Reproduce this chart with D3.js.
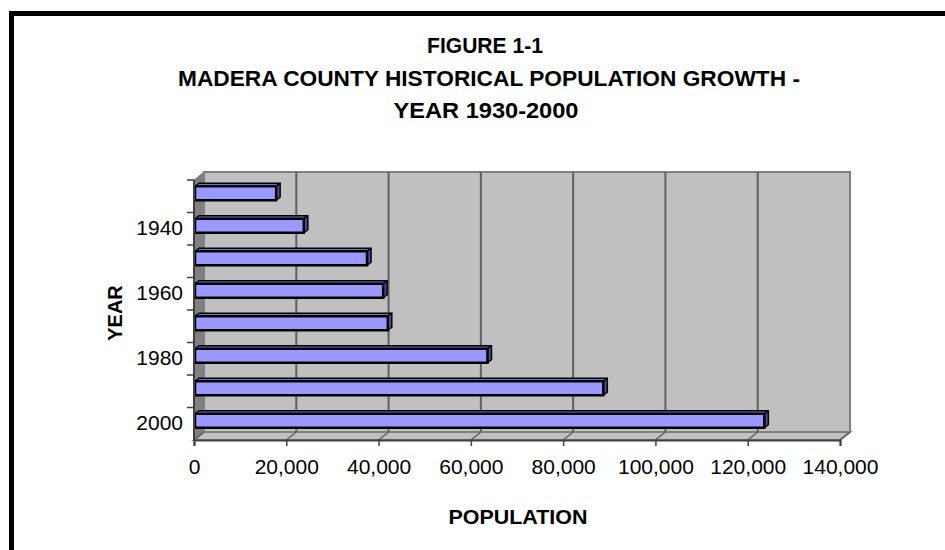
<!DOCTYPE html>
<html>
<head>
<meta charset="utf-8">
<script src="https://cdn.jsdelivr.net/npm/d3@7"></script>
<style>
  body { margin: 0; background: #fff; }
  text { font-family: "Liberation Sans", Arial, sans-serif; fill: #000; }
</style>
</head>
<body>
<svg id="chart" width="945" height="550"></svg>
<script>
// data
const years = ["1930", "1940", "1950", "1960", "1970", "1980", "1990", "2000"];
const population = [17800, 23800, 37500, 41000, 42000, 63600, 88700, 123600];
const yearLabels = ["1940", "1960", "1980", "2000"];
const popTicks = [0, 20000, 40000, 60000, 80000, 100000, 120000, 140000];
const titleLines = ["FIGURE 1-1", "MADERA COUNTY HISTORICAL POPULATION GROWTH -", "YEAR 1930-2000"];

const svg = d3.select("#chart");

// 3d depth offset of the plot box
const dx = 10, dy = -8;

const xScale = d3.scaleLinear().domain([0, 140000]).range([194, 840]);
const yScale = d3.scaleBand().domain(years).range([180, 440]);

// outer frame
svg.append("rect")
  .attr("x", 11.5).attr("y", 13.5)
  .attr("width", 1000).attr("height", 600)
  .style("fill", "none").style("stroke", "#000").style("stroke-width", 5);

// title
const titleW = [116, 622, 185];
const titleX = [485, 489, 486];
svg.selectAll(".title")
  .data(titleLines)
  .enter()
  .append("text")
  .attr("class", "title")
  .attr("x", (d, i) => titleX[i])
  .attr("y", (d, i) => 53 + i * 32.5)
  .attr("text-anchor", "middle")
  .attr("textLength", (d, i) => titleW[i])
  .attr("lengthAdjust", "spacingAndGlyphs")
  .style("font-size", "22px")
  .style("font-weight", "bold")
  .text(d => d);

const x0 = xScale(0), x1 = xScale(140000);
const yTop = yScale.range()[0], yBot = yScale.range()[1];

// back wall
svg.append("rect")
  .attr("x", x0 + dx).attr("y", yTop + dy)
  .attr("width", x1 - x0).attr("height", yBot - yTop)
  .style("fill", "#c0c0c0").style("stroke", "#808080").style("stroke-width", 2);

// side wall
svg.append("polygon")
  .attr("points", [[x0, yTop], [x0 + dx, yTop + dy], [x0 + dx, yBot + dy], [x0, yBot]].join(" "))
  .style("fill", "#808080").style("stroke", "#808080").style("stroke-width", 1);

// floor
svg.append("polygon")
  .attr("points", [[x0, yBot], [x0 + dx, yBot + dy], [x1 + dx, yBot + dy], [x1, yBot]].join(" "))
  .style("fill", "#c0c0c0").style("stroke", "#808080").style("stroke-width", 2);

// gridlines on wall and floor
svg.selectAll(".grid")
  .data(popTicks.slice(1, -1))
  .enter()
  .append("line")
  .attr("x1", d => xScale(d) + dx).attr("x2", d => xScale(d) + dx)
  .attr("y1", yTop + dy).attr("y2", yBot + dy)
  .style("stroke", "#606060").style("stroke-width", 2);

svg.selectAll(".floorgrid")
  .data(popTicks)
  .enter()
  .append("line")
  .attr("x1", d => xScale(d) + dx).attr("x2", d => xScale(d))
  .attr("y1", yBot + dy).attr("y2", yBot)
  .style("stroke", "#606060").style("stroke-width", 1.5);

// bars (top face, end face, front face)
const barH = 14, bx = 4, by = -3;
const bars = svg.selectAll(".bar")
  .data(years.map((y, i) => ({ year: y, value: population[i] })))
  .enter()
  .append("g")
  .attr("class", "bar");

const barTop = d => yScale(d.year) + (yScale.bandwidth() - barH) / 2 - 3;

bars.append("polygon")
  .attr("points", d => {
    const xa = xScale(0) + 1, xb = xScale(d.value), t = barTop(d);
    return [[xa, t], [xa + bx, t + by], [xb + bx, t + by], [xb, t]].join(" ");
  })
  .style("fill", "#7373cc").style("stroke", "#000").style("stroke-width", 1.5)
  .style("stroke-linejoin", "round");

bars.append("polygon")
  .attr("points", d => {
    const xb = xScale(d.value), t = barTop(d);
    return [[xb, t], [xb + bx, t + by], [xb + bx, t + by + barH], [xb, t + barH]].join(" ");
  })
  .style("fill", "#4d4d99").style("stroke", "#000").style("stroke-width", 1.5)
  .style("stroke-linejoin", "round");

bars.append("rect")
  .attr("x", xScale(0) + 1)
  .attr("y", d => barTop(d))
  .attr("width", d => xScale(d.value) - xScale(0) - 1)
  .attr("height", barH)
  .style("fill", "#9999ff").style("stroke", "#000").style("stroke-width", 2.5);

// x axis
const xAxis = d3.axisBottom(xScale)
  .tickValues(popTicks)
  .tickSize(6)
  .tickPadding(13)
  .tickFormat(d3.format(","));
const gx = svg.append("g").attr("transform", `translate(0, ${yBot})`).call(xAxis);
gx.select(".domain").style("stroke", "#404040").style("stroke-width", 2);
gx.selectAll(".tick line").style("stroke", "#404040").style("stroke-width", 1.5);
gx.selectAll(".tick text")
  .style("font-size", "21px")
  .style("font-family", "'Liberation Sans', Arial, sans-serif");

// y axis: ticks at category boundaries, labels on every other year
svg.append("line")
  .attr("x1", x0).attr("x2", x0).attr("y1", yTop).attr("y2", yBot)
  .style("stroke", "#404040").style("stroke-width", 2);

svg.selectAll(".ytick")
  .data(years)
  .enter()
  .append("line")
  .attr("x1", x0 - 7).attr("x2", x0)
  .attr("y1", d => yScale(d)).attr("y2", d => yScale(d))
  .style("stroke", "#404040").style("stroke-width", 1.5);

svg.selectAll(".ylabel")
  .data(yearLabels)
  .enter()
  .append("text")
  .attr("x", 183)
  .attr("y", d => yScale(d) + yScale.bandwidth() / 2 + 6)
  .attr("text-anchor", "end")
  .style("font-size", "21px")
  .text(d => d);

// axis titles
svg.append("text")
  .attr("transform", "translate(122, 313) rotate(-90)")
  .attr("text-anchor", "middle")
  .style("font-size", "20px")
  .style("font-weight", "bold")
  .text("YEAR");

svg.append("text")
  .attr("x", 518)
  .attr("y", 524)
  .attr("text-anchor", "middle")
  .attr("textLength", 139)
  .attr("lengthAdjust", "spacingAndGlyphs")
  .style("font-size", "20px")
  .style("font-weight", "bold")
  .text("POPULATION");
</script>
</body>
</html>
